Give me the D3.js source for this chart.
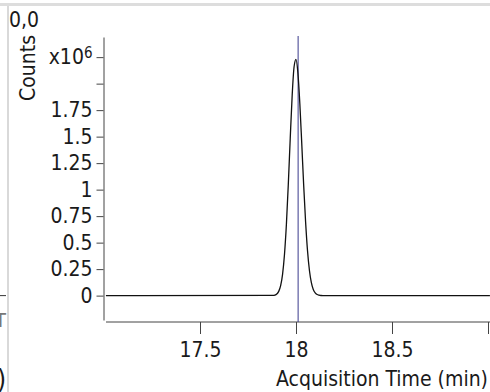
<!DOCTYPE html>
<html>
<head>
<meta charset="utf-8">
<title>Chromatogram</title>
<script src="https://cdn.jsdelivr.net/npm/d3@7"></script>
<style>
  body { margin: 0; background: #ffffff; }
  svg { display: block; }
  text { font-family: "DejaVu Sans Condensed", "DejaVu Sans", sans-serif; fill: #1a1a1a; }
</style>
</head>
<body>
<script>

// acquisition time (min) and counts (x10^6)
var times = [17.01, 17.88, 17.89, 17.90, 17.91, 17.92, 17.93, 17.94, 17.95, 17.96, 17.97,
             17.98, 17.99, 18.00, 18.01, 18.02, 18.03, 18.04, 18.05, 18.06, 18.07, 18.08,
             18.09, 18.10, 18.11, 18.12, 18.13, 18.14, 19.01];
var counts = [0, 0.002, 0.005, 0.015, 0.040, 0.094, 0.201, 0.388, 0.673, 1.054, 1.485,
              1.886, 2.159, 2.229, 2.098, 1.811, 1.434, 1.041, 0.694, 0.423, 0.237, 0.122,
              0.057, 0.025, 0.010, 0.004, 0.001, 0, 0];

// axis ticks
var xTicks = [17.5, 18, 18.5, 19];
var xTickLabels = ["17.5", "18", "18.5", ""];
var yTicks = [0, 0.25, 0.5, 0.75, 1, 1.25, 1.5, 1.75, 2, 2.25];
var yTickLabels = ["0", "0.25", "0.5", "0.75", "1", "1.25", "1.5", "1.75", "", "x10"];

// marker line position (min)
var markerTime = 18.011;

var w = 490, h = 392;
var fs = "21px";

var svg = d3.select("body")
    .append("svg")
    .attr("width", w)
    .attr("height", h);

// scales
var xscale = d3.scaleLinear()
    .domain([17, 19])
    .range([104, 488]);

var yscale = d3.scaleLinear()
    .domain([-0.23, 2.44])
    .range([320, 37]);

// frame of the neighbouring panel
svg.append("line")
    .attr("x1", 0).attr("x2", w).attr("y1", 4.5).attr("y2", 4.5)
    .attr("stroke", "#dddddd").attr("stroke-width", 3);
svg.append("line")
    .attr("x1", 8).attr("x2", 8).attr("y1", 6).attr("y2", h)
    .attr("stroke", "#cccccc").attr("stroke-width", 1.5);
svg.append("line")
    .attr("x1", 0).attr("x2", 6).attr("y1", yscale(0)).attr("y2", yscale(0))
    .attr("stroke", "#333").attr("stroke-width", 1);
svg.append("text").text("T")
    .attr("x", -5).attr("y", 327)
    .attr("font-size", "20px").style("fill", "#777");
svg.append("text").text(")")
    .attr("x", -3).attr("y", 388)
    .attr("font-size", "26px");

// corner label
svg.append("text").text("0,0")
    .attr("x", 9).attr("y", 27)
    .attr("font-size", fs);

// y axis
var yaxis = d3.axisLeft(yscale)
    .tickValues(yTicks)
    .tickSize(7)
    .tickSizeOuter(0)
    .tickPadding(4)
    .tickFormat(function(d, i) { return yTickLabels[i]; });

var gy = svg.append("g")
    .attr("transform", "translate(103.5,0)")
    .call(yaxis);
gy.selectAll("text").attr("font-size", fs).attr("font-family", null);
gy.selectAll("line, path").attr("stroke", "#444");

// exponent on the top tick
gy.selectAll(".tick text")
    .filter(function(d) { return d === 2.25; })
    .append("tspan")
    .attr("dy", "-0.45em")
    .attr("font-size", "15px")
    .text("6");

// x axis
var xaxis = d3.axisBottom(xscale)
    .tickValues(xTicks)
    .tickSize(12)
    .tickSizeOuter(0)
    .tickPadding(8)
    .tickFormat(function(d, i) { return xTickLabels[i]; });

var gx = svg.append("g")
    .attr("transform", "translate(0,322)")
    .call(xaxis);
gx.select(".domain").remove();
gx.append("line")
    .attr("x1", 106).attr("x2", w).attr("y1", 0).attr("y2", 0)
    .attr("stroke", "#444");
gx.selectAll("text").attr("font-size", fs).attr("font-family", null);
gx.selectAll("line").attr("stroke", "#444");

// axis titles
svg.append("text").text("Counts")
    .attr("transform", "translate(35,68) rotate(-90)")
    .attr("text-anchor", "middle")
    .attr("font-size", fs);

svg.append("text").text("Acquisition Time (min)")
    .attr("x", 488).attr("y", 386)
    .attr("text-anchor", "end")
    .attr("font-size", fs);

// marker line
svg.append("line")
    .attr("x1", xscale(markerTime)).attr("x2", xscale(markerTime))
    .attr("y1", yscale(2.44) - 1).attr("y2", 322)
    .attr("stroke", "#3a3a8c").attr("stroke-width", 1);

// chromatogram trace
var points = times.map(function(t, i) { return [t, counts[i]]; });
var line = d3.line()
    .x(function(d) { return xscale(d[0]); })
    .y(function(d) { return yscale(d[1]); })
    .curve(d3.curveMonotoneX);

svg.append("path")
    .datum(points)
    .attr("d", line)
    .attr("fill", "none")
    .attr("stroke", "#111")
    .attr("stroke-width", 1.3);

</script>
</body>
</html>
